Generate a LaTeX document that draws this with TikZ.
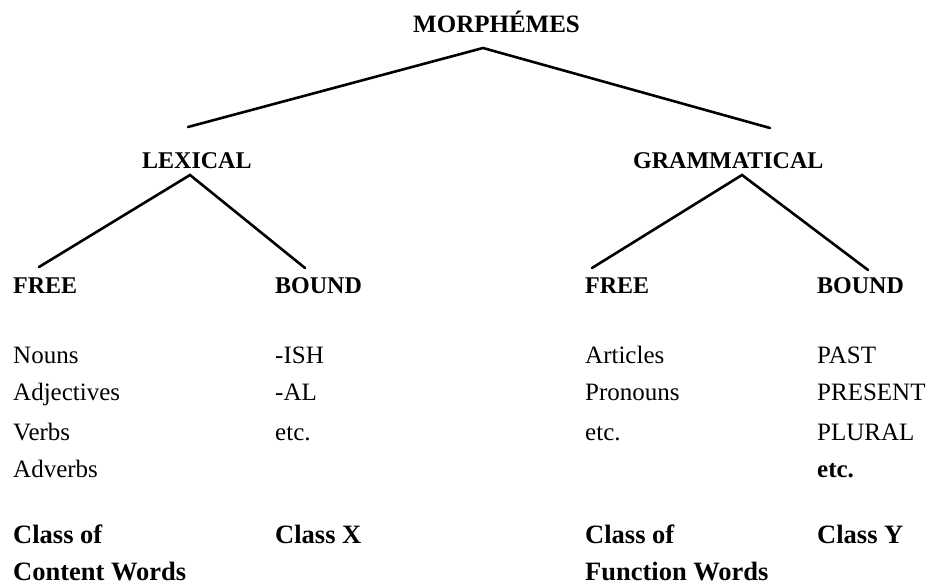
\documentclass[tikz,border=0pt]{standalone}
\usepackage{fontspec}
\setmainfont{Liberation Serif}
\begin{document}
\begin{tikzpicture}[x=1pt,y=-1pt,
  head/.style={anchor=base west, inner sep=0pt, font=\fontsize{24}{28}\selectfont\bfseries},
  item/.style={anchor=base west, inner sep=0pt, font=\fontsize{25}{30}\selectfont},
  itemb/.style={item, font=\fontsize{25}{30}\selectfont\bfseries},
  cls/.style={anchor=base west, inner sep=0pt, font=\fontsize{26.5}{30}\selectfont\bfseries},
  branch/.style={line width=2.6pt, line cap=round}]
\fill[white] (0,0) rectangle (942,588);
\useasboundingbox (0,0) rectangle (942,588);

% headings
\node[head, font=\fontsize{25}{28}\selectfont\bfseries] (morph) at (413,33) {MORPH\'EMES};
\node[head] (lex) at (142,169) {LEXICAL};
\node[head] (gram) at (633,169) {GRAMMATICAL};
\node[head] (lfree) at (13,293) {FREE};
\node[head] (lbound) at (275,293) {BOUND};
\node[head] (gfree) at (585,293) {FREE};
\node[head] (gbound) at (817,293) {BOUND};

% branch points
\coordinate (mtop) at (483,48);
\coordinate (mleft) at (188,127);
\coordinate (mright) at (770,128);
\coordinate (ltop) at (190,175);
\coordinate (lleft) at (39,267);
\coordinate (lright) at (305,268);
\coordinate (gtop) at (742,175);
\coordinate (gleft) at (592,268);
\coordinate (gright) at (868,270);

\draw[branch] (mleft) -- (mtop) -- (mright);
\draw[branch] (lleft) -- (ltop) -- (lright);
\draw[branch] (gleft) -- (gtop) -- (gright);

% lexical free
\node[item] (n1) at (13,363) {Nouns};
\node[item] (n2) at (13,400) {Adjectives};
\node[item] (n3) at (13,440) {Verbs};
\node[item] (n4) at (13,477) {Adverbs};
% lexical bound
\node[item] (b1) at (275,363) {-ISH};
\node[item] (b2) at (275,400) {-AL};
\node[item] (b3) at (275,440) {etc.};
% grammatical free
\node[item] (f1) at (585,363) {Articles};
\node[item] (f2) at (585,400) {Pronouns};
\node[item] (f3) at (585,440) {etc.};
% grammatical bound
\node[item] (g1) at (817,363) {PAST};
\node[item] (g2) at (817,400) {PRESENT};
\node[item] (g3) at (817,440) {PLURAL};
\node[itemb] (g4) at (817,477) {etc.};

% classes
\node[cls] (c1a) at (13,543) {Class of};
\node[cls] (c1b) at (13,580) {Content Words};
\node[cls] (c2) at (275,543) {Class X};
\node[cls] (c3a) at (585,543) {Class of};
\node[cls] (c3b) at (585,580) {Function Words};
\node[cls] (c4) at (817,543) {Class Y};
\end{tikzpicture}
\end{document}
